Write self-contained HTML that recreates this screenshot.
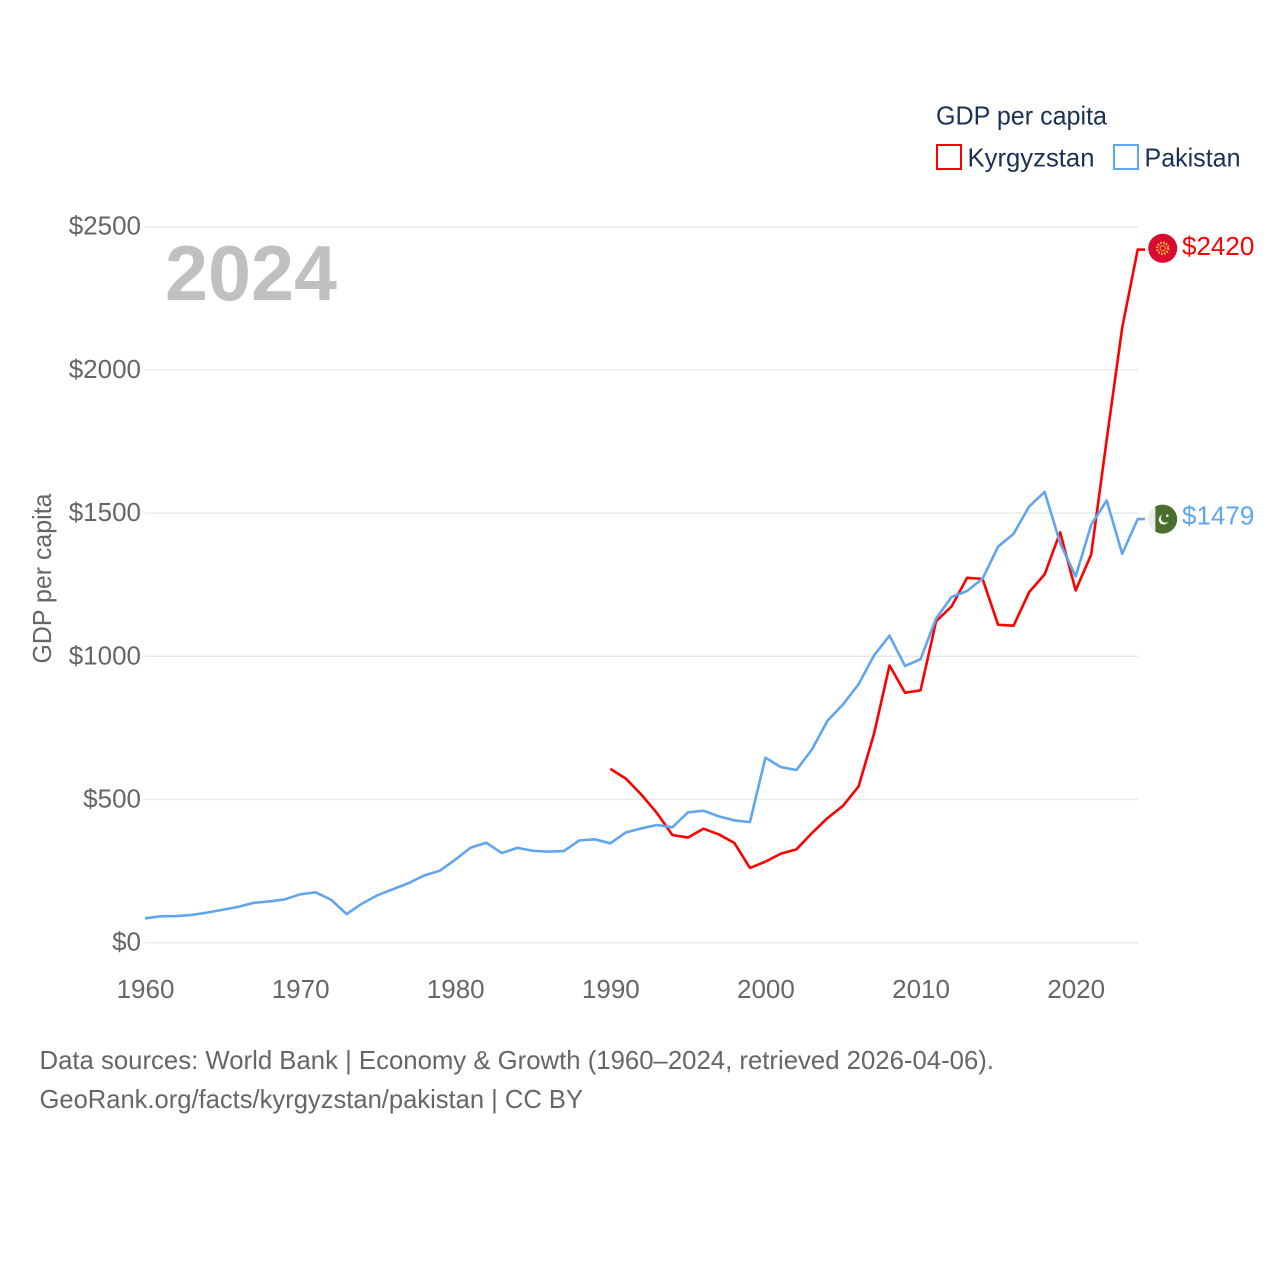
<!DOCTYPE html>
<html lang="en">
<head>
<meta charset="utf-8">
<title>GDP per capita: Kyrgyzstan and Pakistan</title>
<style>
html,body{margin:0;padding:0;background:#fff;width:1280px;height:1280px;overflow:hidden}
svg{display:block}
text{font-family:"Liberation Sans",sans-serif;font-size:26px}
</style>
</head>
<body>
<svg id="chart" xmlns="http://www.w3.org/2000/svg" width="1280" height="1280" viewBox="0 0 1280 1280">
  <rect x="0" y="0" width="1280" height="1280" fill="#ffffff"/>
  <g id="grid"></g>
  <g id="yticks"></g>
  <g id="xticks"></g>
  <text x="165" y="300" textLength="172" lengthAdjust="spacingAndGlyphs" style="font-size:78px;font-weight:700" fill="#c0c0c0">2024</text>
  <text transform="translate(51,578.5) rotate(-90)" text-anchor="middle" textLength="170" lengthAdjust="spacingAndGlyphs" fill="#666666">GDP per capita</text>
  <g id="series"></g>

  <g id="flag-kg">
    <circle cx="0" cy="0" r="14.5" fill="#da0a30"/>
    <circle cx="0" cy="0" r="5.5" fill="none" stroke="#f2c230" stroke-width="2.6" stroke-dasharray="1.5 1.4"/>
    <circle cx="0" cy="0" r="2.6" fill="#da0a30" stroke="#eeb62c" stroke-width="1"/>
  </g>
  <g id="flag-pk">
    <circle cx="0" cy="0" r="14.5" fill="#ececec"/>
    <path d="M-7.3,-12.55 A14.5,14.5 0 1 1 -7.3,12.55 Z" fill="#4a6f2c"/>
    <circle cx="1" cy="0.5" r="5" fill="#f2f2f2"/>
    <circle cx="2.6" cy="-0.9" r="4.4" fill="#4a6f2c"/>
    <circle cx="4.6" cy="-3.4" r="1.3" fill="#f2f2f2"/>
  </g>
  <text id="label-kg" x="1182" fill="#ff0000"></text>
  <text id="label-pk" x="1182" fill="#60a5ed"></text>

  <g>
    <text x="936" y="124.5" textLength="171" lengthAdjust="spacingAndGlyphs" fill="#1b3154">GDP per capita</text>
    <rect x="937" y="145" width="24" height="24" fill="none" stroke="#ff0000" stroke-width="2"/>
    <text x="967.5" y="166.5" textLength="127" lengthAdjust="spacingAndGlyphs" fill="#1b3154">Kyrgyzstan</text>
    <rect x="1114" y="145" width="24" height="24" fill="none" stroke="#60a5ed" stroke-width="2"/>
    <text x="1144.5" y="166.5" textLength="96" lengthAdjust="spacingAndGlyphs" fill="#1b3154">Pakistan</text>
  </g>

  <text x="39.5" y="1069" textLength="954.5" lengthAdjust="spacingAndGlyphs" fill="#666666">Data sources: World Bank | Economy &amp; Growth (1960–2024, retrieved 2026-04-06).</text>
  <text x="39.5" y="1108" textLength="543.5" lengthAdjust="spacingAndGlyphs" fill="#666666">GeoRank.org/facts/kyrgyzstan/pakistan | CC BY</text>
</svg>
<script>
var pakistanStartYear = 1960;
var pakistanValues = [85,92,93,97,105,115,125,139,144,151,169,176,150,100,137,166,187,208,235,251,290,332,349,313,331,321,318,320,357,361,347,385,399,411,403,455,461,441,427,421,646,613,603,675,775,832,902,1003,1072,966,990,1132,1207,1228,1271,1383,1428,1523,1574,1395,1279,1459,1544,1358,1479];
var kyrgyzstanStartYear = 1990;
var kyrgyzstanValues = [607,573,517,453,376,367,398,378,348,261,283,311,326,383,435,478,545,729,968,873,881,1122,1174,1274,1270,1110,1107,1224,1286,1433,1230,1355,1756,2147,2420];
var yTickValues = [0,500,1000,1500,2000,2500];
var xTickYears = [1960,1970,1980,1990,2000,2010,2020];

var NS = 'http://www.w3.org/2000/svg';
function xScale(year){ return 145 + (year - 1960) * (1137.7 - 145) / 64; }
function yScale(v){ return 942.7 - v * 0.2864; }
function make(tag, attrs, parent){
  var el = document.createElementNS(NS, tag);
  for (var k in attrs) el.setAttribute(k, attrs[k]);
  parent.appendChild(el);
  return el;
}
var grid = document.getElementById('grid');
var yticks = document.getElementById('yticks');
var xticks = document.getElementById('xticks');
var series = document.getElementById('series');

yTickValues.forEach(function(v){
  var line = make('line', {x1:145, x2:1138, y1:yScale(v), y2:yScale(v), stroke:'#e9e9e9', 'stroke-width':1.5}, grid);
  
  
  var t = make('text', {x:141, y:yScale(v)+8, 'text-anchor':'end', fill:'#666666'}, yticks);
  
  
  t.textContent = '$' + v;
});
xTickYears.forEach(function(y){
  var t = make('text', {x:xScale(y)+0.5, y:998, 'text-anchor':'middle', fill:'#666666'}, xticks);
  
  
  t.textContent = String(y);
});

function drawLine(values, start, color, name){
  var pts = values.map(function(v, i){ return xScale(start + i).toFixed(2) + ',' + yScale(v).toFixed(2); });
  var last = values[values.length - 1];
  pts.push('1145,' + yScale(last).toFixed(2));
  var p = make('polyline', {points:pts.join(' '), fill:'none', stroke:color, 'stroke-width':2.6, 'stroke-linejoin':'round'}, series);
  
  
}
drawLine(kyrgyzstanValues, kyrgyzstanStartYear, '#ff0000', 'kyrgyzstan-line');
drawLine(pakistanValues, pakistanStartYear, '#60a5ed', 'pakistan-line');

var kgLast = kyrgyzstanValues[kyrgyzstanValues.length - 1];
var pkLast = pakistanValues[pakistanValues.length - 1];
document.getElementById('flag-kg').setAttribute('transform', 'translate(1162.7,' + (yScale(kgLast) - 1.3).toFixed(2) + ')');
document.getElementById('flag-pk').setAttribute('transform', 'translate(1162.7,' + yScale(pkLast).toFixed(2) + ')');
var lk = document.getElementById('label-kg');
lk.setAttribute('y', (yScale(kgLast) + 5.5).toFixed(2));
lk.textContent = '$' + kgLast;
var lp = document.getElementById('label-pk');
lp.setAttribute('y', (yScale(pkLast) + 5.5).toFixed(2));
lp.textContent = '$' + pkLast;
</script>
</body>
</html>
